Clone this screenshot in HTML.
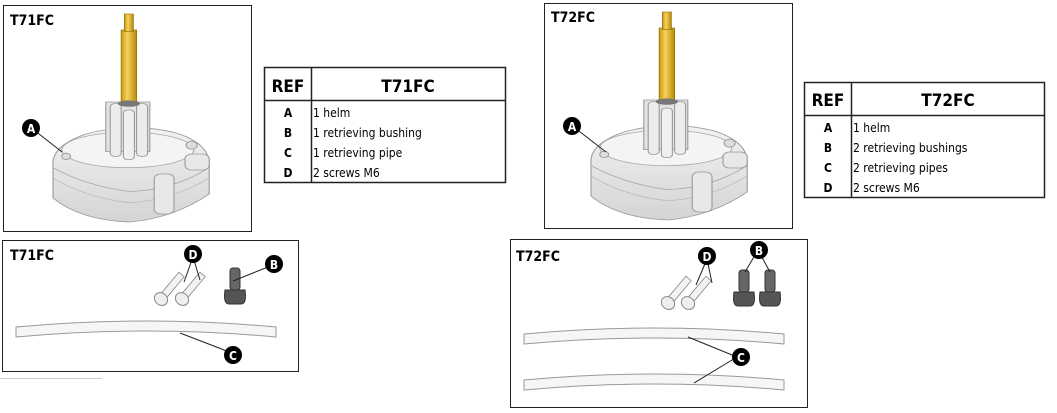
<!DOCTYPE html>
<html><head><meta charset="utf-8"><style>
body{margin:0;background:#fff;width:1057px;height:413px;overflow:hidden;font-family:"DejaVu Sans Condensed","Liberation Sans",sans-serif}
svg{position:absolute;left:0;top:0}
</style></head><body>
<svg width="1057" height="413" viewBox="0 0 1057 413">
<defs>
<clipPath id="c1"><rect x="4" y="6" width="247" height="225"/></clipPath>
<clipPath id="c2"><rect x="545" y="4" width="247" height="224"/></clipPath>
<linearGradient id="gold" x1="0" x2="1"><stop offset="0" stop-color="#c99a10"/><stop offset=".4" stop-color="#f6d25a"/><stop offset="1" stop-color="#b88a0a"/></linearGradient>
<linearGradient id="body" x1="0" y1="0" x2="0" y2="1"><stop offset="0" stop-color="#f2f2f2"/><stop offset="1" stop-color="#d4d4d4"/></linearGradient>
<g id="helm">
 <path d="M-70 20 Q-72 -5 -40 -20 Q0 -35 40 -22 Q70 -10 72 15 L72 55 Q40 85 0 90 Q-45 88 -70 60 Z" fill="url(#body)" stroke="#999" stroke-width="1"/>
 <path d="M-70 22 Q-40 45 0 52 Q40 50 72 22" fill="none" stroke="#aaa"/>
 <path d="M-70 35 Q-40 60 0 66 Q40 62 72 35" fill="none" stroke="#bbb"/>
 <ellipse cx="-2" cy="0" rx="60" ry="22" fill="#f4f4f4" stroke="#aaa"/>
 <rect x="-22" y="-60" width="40" height="62" fill="#e4e4e4" stroke="#999"/>
 <rect x="-18" y="-58" width="10" height="66" rx="4" fill="#ececec" stroke="#999"/>
 <rect x="6" y="-58" width="10" height="66" rx="4" fill="#ececec" stroke="#999"/>
 <rect x="-6" y="-50" width="10" height="62" rx="4" fill="#f0f0f0" stroke="#999"/>
 <rect x="-8" y="-150" width="14" height="92" fill="url(#gold)" stroke="#9a7508" stroke-width=".8"/>
 <rect x="-5" y="-170" width="8" height="22" fill="url(#gold)" stroke="#9a7508" stroke-width=".8"/>
 <ellipse cx="-1" cy="-58" rx="10" ry="4" fill="#777"/>
 <rect x="50" y="5" width="22" height="20" rx="6" fill="#e8e8e8" stroke="#999"/>
 <rect x="22" y="30" width="18" height="50" rx="6" fill="#e8e8e8" stroke="#999"/>
 <circle cx="56" cy="-6" r="5" fill="#ddd" stroke="#999"/>
 <circle cx="-58" cy="8" r="4" fill="#ddd" stroke="#999"/>
</g>
<g id="screw"><g transform="rotate(-140)"><rect x="-3.5" y="0" width="7" height="32" fill="#f2f2f2" stroke="#888" stroke-width=".8"/><ellipse cx="0" cy="0" rx="7" ry="6" fill="#eee" stroke="#888"/></g></g>
<g id="bush"><rect x="-5" y="-22" width="10" height="22" rx="3" fill="#666" stroke="#333"/><path d="M-10 0 Q-12 14 -6 14 L6 14 Q12 14 10 0 Z" fill="#555" stroke="#333"/></g>
<g id="pipe"><path d="M0 0 Q130 -12 260 0 L260 10 Q130 -2 0 10 Z" fill="#f6f6f6" stroke="#999"/></g>
</defs>

<rect x="3.5" y="5.5" width="248" height="226" fill="#fff" stroke="#222"/>
<text x="10" y="25" font-size="14" font-weight="bold">T71FC</text>
<g clip-path="url(#c1)"><use href="#helm" transform="translate(130,150) scale(1.1,0.8)"/></g>
<line x1="34" y1="130" x2="62" y2="152" stroke="#222"/>
<circle cx="31" cy="128" r="9"/><text x="31" y="133" font-size="12" font-weight="bold" fill="#fff" text-anchor="middle">A</text>

<rect x="264.5" y="67.5" width="241" height="115" fill="#fff" stroke="#222" stroke-width="1.5"/>
<line x1="264" y1="100.5" x2="506" y2="100.5" stroke="#222" stroke-width="1.5"/>
<line x1="311.5" y1="67" x2="311.5" y2="183" stroke="#222" stroke-width="1.5"/>
<text x="288" y="92" font-size="17" font-weight="bold" text-anchor="middle">REF</text>
<text x="408" y="92" font-size="17" font-weight="bold" text-anchor="middle">T71FC</text>
<g font-size="12"><text x="288" y="117" text-anchor="middle" font-weight="bold">A</text><text x="313" y="117">1 helm</text>
<text x="288" y="137" text-anchor="middle" font-weight="bold">B</text><text x="313" y="137">1 retrieving bushing</text>
<text x="288" y="157" text-anchor="middle" font-weight="bold">C</text><text x="313" y="157">1 retrieving pipe</text>
<text x="288" y="177" text-anchor="middle" font-weight="bold">D</text><text x="313" y="177">2 screws M6</text></g>

<rect x="2.5" y="240.5" width="296" height="131" fill="#fff" stroke="#222"/>
<text x="10" y="260" font-size="14" font-weight="bold">T71FC</text>
<line x1="0" y1="378.5" x2="102" y2="378.5" stroke="#ccc"/>
<use href="#screw" transform="translate(161,299)"/><use href="#screw" transform="translate(182,299)"/>
<use href="#bush" transform="translate(235,290)"/>
<use href="#pipe" transform="translate(16,327)"/>
<line x1="193" y1="257" x2="184" y2="282" stroke="#222"/><line x1="193" y1="257" x2="200" y2="280" stroke="#222"/>
<line x1="273" y1="265" x2="233" y2="281" stroke="#222"/>
<line x1="232" y1="353" x2="180" y2="333" stroke="#222"/>
<circle cx="193" cy="254" r="9"/><text x="193" y="259" font-size="12" font-weight="bold" fill="#fff" text-anchor="middle">D</text>
<circle cx="274" cy="264" r="9"/><text x="274" y="269" font-size="12" font-weight="bold" fill="#fff" text-anchor="middle">B</text>
<circle cx="233" cy="355" r="9"/><text x="233" y="360" font-size="12" font-weight="bold" fill="#fff" text-anchor="middle">C</text>

<rect x="544.5" y="3.5" width="248" height="225" fill="#fff" stroke="#222"/>
<text x="551" y="22" font-size="14" font-weight="bold">T72FC</text>
<g clip-path="url(#c2)"><use href="#helm" transform="translate(668,148) scale(1.1,0.8)"/></g>
<line x1="575" y1="128" x2="606" y2="152" stroke="#222"/>
<circle cx="572" cy="126" r="9"/><text x="572" y="131" font-size="12" font-weight="bold" fill="#fff" text-anchor="middle">A</text>

<rect x="804.5" y="82.5" width="240" height="115" fill="#fff" stroke="#222" stroke-width="1.5"/>
<line x1="804" y1="115.5" x2="1045" y2="115.5" stroke="#222" stroke-width="1.5"/>
<line x1="851.5" y1="82" x2="851.5" y2="198" stroke="#222" stroke-width="1.5"/>
<text x="828" y="106" font-size="17" font-weight="bold" text-anchor="middle">REF</text>
<text x="948" y="106" font-size="17" font-weight="bold" text-anchor="middle">T72FC</text>
<g font-size="12"><text x="828" y="132" text-anchor="middle" font-weight="bold">A</text><text x="853" y="132">1 helm</text>
<text x="828" y="152" text-anchor="middle" font-weight="bold">B</text><text x="853" y="152">2 retrieving bushings</text>
<text x="828" y="172" text-anchor="middle" font-weight="bold">C</text><text x="853" y="172">2 retrieving pipes</text>
<text x="828" y="192" text-anchor="middle" font-weight="bold">D</text><text x="853" y="192">2 screws M6</text></g>

<rect x="510.5" y="239.5" width="297" height="168" fill="#fff" stroke="#222"/>
<text x="516" y="261" font-size="14" font-weight="bold">T72FC</text>
<use href="#screw" transform="translate(668,303)"/><use href="#screw" transform="translate(688,303)"/>
<use href="#bush" transform="translate(744,292)"/><use href="#bush" transform="translate(770,292)"/>
<use href="#pipe" transform="translate(524,334)"/>
<use href="#pipe" transform="translate(524,380)"/>
<line x1="707" y1="259" x2="696" y2="285" stroke="#222"/><line x1="707" y1="259" x2="712" y2="283" stroke="#222"/>
<line x1="758" y1="250" x2="745" y2="272" stroke="#222"/><line x1="758" y1="250" x2="770" y2="272" stroke="#222"/>
<line x1="737" y1="357" x2="688" y2="337" stroke="#222"/><line x1="737" y1="357" x2="694" y2="383" stroke="#222"/>
<circle cx="707" cy="256" r="9"/><text x="707" y="261" font-size="12" font-weight="bold" fill="#fff" text-anchor="middle">D</text>
<circle cx="759" cy="250" r="9"/><text x="759" y="255" font-size="12" font-weight="bold" fill="#fff" text-anchor="middle">B</text>
<circle cx="741" cy="357" r="9"/><text x="741" y="362" font-size="12" font-weight="bold" fill="#fff" text-anchor="middle">C</text>
</svg>
</body></html>
